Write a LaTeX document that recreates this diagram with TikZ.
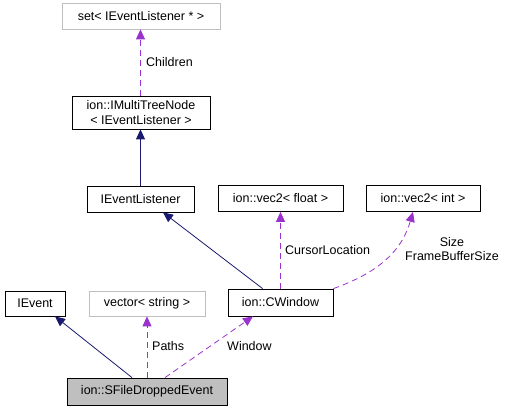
\documentclass[tikz,border=0pt]{standalone}
\usepackage{fontspec}
\setmainfont{Liberation Sans}
\usetikzlibrary{arrows.meta}
\definecolor{navyedge}{HTML}{191970}
\definecolor{depedge}{HTML}{9A32CD}
\definecolor{greybox}{HTML}{BFBFBF}
\tikzset{
  cls/.style={draw=black, line width=0.8pt, rectangle, inner sep=0pt, minimum height=26pt, align=center, font=\fontsize{12.5}{14.5}\selectfont},
  ext/.style={cls, draw=greybox},
  cur/.style={cls, fill=greybox},
  inh/.style={draw=navyedge, line width=0.8pt, -{Triangle[length=10pt,width=9pt]}},
  dep/.style={draw=depedge, line width=0.8pt, dash pattern=on 6pt off 4pt, -{Triangle[length=10pt,width=9pt]}},
  lbl/.style={inner sep=0pt, align=center, font=\fontsize{12.5}{14.5}\selectfont}
}
\begin{document}
\begin{tikzpicture}[x=1pt, y=-1pt]
\useasboundingbox (0,0) rectangle (507,411);
\node[ext, minimum width=158pt, minimum height=26pt] (set) at (141,16) {set< IEventListener * >};
\node[cls, minimum width=138pt, minimum height=33pt] (imtn) at (141,112.5) {ion::IMultiTreeNode\\< IEventListener >};
\node[cls, minimum width=107pt] (iel) at (140.5,199) {IEventListener};
\node[cls, minimum width=125pt] (vfloat) at (280.5,198.5) {ion::vec2< float >};
\node[cls, minimum width=114pt] (vint) at (423,198.5) {ion::vec2< int >};
\node[cls, minimum width=60pt, minimum height=25pt] (ievent) at (35,303.5) {IEvent};
\node[ext, minimum width=116pt, minimum height=25pt] (vstr) at (147,303.5) {vector< string >};
\node[cls, minimum width=105pt, minimum height=27pt] (cwin) at (280.5,302.5) {ion::CWindow};
\node[cur, minimum width=160pt, minimum height=27pt] (sfile) at (147,391.5) {ion::SFileDroppedEvent};

% Children
\draw[dep] (imtn.north -| iel.north) -- (iel.north |- set.south);
\node[lbl, anchor=west] (lchildren) at (146,62) {Children};
% inheritance
\draw[inh] (iel.north) -- (iel.north |- imtn.south);
\draw[inh] ([xshift=35pt]cwin.north west) -- ([xshift=22.5pt]iel.south);
\draw[inh] ([xshift=-15pt]sfile.north) -- ([xshift=20pt]ievent.south);
% CursorLocation
\draw[dep] (cwin.north) -- (vfloat.south);
\node[lbl, anchor=west] (lcursor) at (285,250) {CursorLocation};
% Size / FrameBufferSize
\draw[dep] (cwin.north east) .. controls (380,272) and (402,250) .. ([xshift=-10pt]vint.south);
\node[lbl] (lsize) at (452,249) {Size\\FrameBufferSize};
% Paths
\draw[dep] (sfile.north) -- (vstr.south);
\node[lbl, anchor=west] (lpaths) at (152,346) {Paths};
% Window
\draw[dep] ([xshift=18pt]sfile.north) -- ([xshift=-27.5pt]cwin.south);
\node[lbl, anchor=west] (lwindow) at (227,346) {Window};
\end{tikzpicture}
\end{document}
